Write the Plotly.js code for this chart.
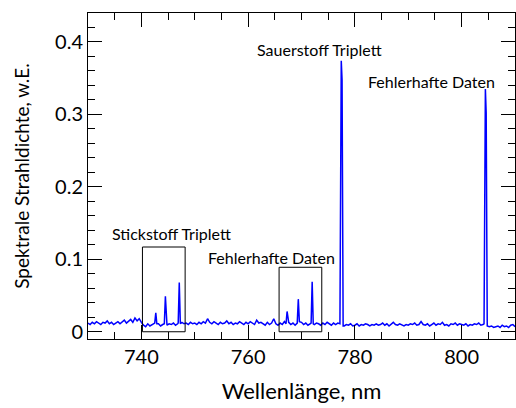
<!DOCTYPE html>
<html>
<head>
<meta charset="utf-8">
<script src="https://cdn.plot.ly/plotly-3.0.1.min.js"></script>
<style>html,body{margin:0;padding:0;background:#fff;}#chart{width:516px;height:408px;}</style>
</head>
<body>
<div id="chart"></div>
<script>
// Baseline grid: 730 .. 810 nm, step 0.4 nm
const baseStart = 730;
const baseStep = 0.4;
const baseline = [
  0.012,0.010,0.013,0.011,0.014,0.012,0.010,0.013,0.012,0.015,0.011,0.013,0.010,0.012,0.014,0.011,0.013,0.016,0.012,0.014,0.017,0.013,0.019,0.015,0.018,
  0.013,0.009,0.007,0.011,0.008,0.010,0.012,0.009,0.011,0.008,0.010,0.012,0.009,0.011,0.010,0.012,0.009,0.011,0.010,0.013,0.011,0.012,0.010,0.013,0.011,
  0.012,0.010,0.013,0.011,0.014,0.012,0.018,0.013,0.011,0.014,0.012,0.010,0.013,0.011,0.012,0.015,0.011,0.013,0.010,0.012,0.011,0.014,0.012,0.010,0.013,
  0.011,0.014,0.012,0.010,0.016,0.012,0.013,0.011,0.009,0.013,0.010,0.012,0.018,0.011,0.009,0.012,0.010,0.014,0.011,0.013,0.010,0.012,0.009,0.012,0.011,
  0.013,0.010,0.012,0.009,0.011,0.013,0.010,0.012,0.011,0.009,0.012,0.010,0.013,0.011,0.009,0.012,0.010,0.012,0.009,0.011,0.008,0.010,0.009,0.011,0.008,
  0.009,0.011,0.008,0.010,0.009,0.011,0.010,0.008,0.010,0.009,0.011,0.009,0.010,0.012,0.009,0.011,0.008,0.010,0.013,0.010,0.009,0.011,0.010,0.008,0.010,
  0.009,0.011,0.010,0.012,0.009,0.010,0.014,0.010,0.009,0.011,0.008,0.010,0.012,0.009,0.011,0.010,0.013,0.009,0.010,0.008,0.011,0.010,0.012,0.009,0.011,
  0.010,0.009,0.011,0.008,0.010,0.009,0.011,0.010,0.012,0.009,0.010,0.008,0.009,0.007,0.008,0.006,0.007,0.008,0.006,0.009,0.007,0.008,0.006,0.009,0.010,
  0.007
];

// Emission lines (wavelength, intensity)
const peakX = [
  [742.5, 742.7, 742.9],
  [744.3, 744.5, 744.7],
  [746.9, 747.1, 747.3],
  [767.1, 767.3, 767.5],
  [769.2, 769.4, 769.6],
  [771.8, 772.0, 772.2],
  [777.2, 777.45, 777.6, 777.8],
  [804.2, 804.45, 804.6, 804.8]
];
const peakY = [
  [0.012, 0.026, 0.011],
  [0.011, 0.049, 0.012],
  [0.012, 0.068, 0.011],
  [0.011, 0.028, 0.013],
  [0.012, 0.045, 0.014],
  [0.012, 0.069, 0.011],
  [0.011, 0.374, 0.348, 0.008],
  [0.011, 0.335, 0.302, 0.008]
];

// Boxes around line groups [x0, x1, y0, y1]
const boxes = [
  [740.2, 748.2, 0.0, 0.117],
  [765.8, 773.8, 0.0, 0.089]
];

const labelTexts = ["Stickstoff Triplett", "Fehlerhafte Daten", "Sauerstoff Triplett", "Fehlerhafte Daten"];
const labelX = [745.6, 764.4, 773.4, 794.4];
const labelY = [0.136, 0.103, 0.389, 0.345];

const xTitle = "Wellenlänge, nm";
const yTitle = "Spektrale Strahldichte, w.E.";

const xRange = [730, 810];
const yRange = [-0.01, 0.44];

// merge baseline with peaks
let pts = [];
baseline.forEach((v, i) => {
  const x = +(baseStart + i * baseStep).toFixed(2);
  const inPeak = peakX.some(px => x >= px[0] - 0.05 && x <= px[px.length - 1] + 0.05);
  if (!inPeak) pts.push([x, v]);
});
peakX.forEach((px, k) => px.forEach((x, j) => pts.push([x, peakY[k][j]])));
pts.sort((a, b) => a[0] - b[0]);

const font = "Lato, 'DejaVu Sans', sans-serif";

const trace = {
  x: pts.map(p => p[0]),
  y: pts.map(p => p[1]),
  type: 'scatter',
  mode: 'lines',
  line: {color: '#0000ff', width: 1.5},
  hoverinfo: 'skip'
};
// invisible trace to activate minor-tick axes
const helper = {
  x: xRange, y: yRange, xaxis: 'x2', yaxis: 'y2',
  type: 'scatter', mode: 'lines', line: {color: 'rgba(0,0,0,0)', width: 0},
  hoverinfo: 'skip', showlegend: false
};

const layout = {
  width: 516,
  height: 408,
  margin: {l: 88, r: 1, t: 13, b: 69},
  paper_bgcolor: '#fff',
  plot_bgcolor: '#fff',
  showlegend: false,
  font: {family: font, color: '#000'},
  xaxis: {
    range: xRange, showgrid: false, zeroline: false,
    showline: true, linecolor: '#000', linewidth: 1, mirror: 'ticks',
    ticks: 'inside', ticklen: 14, tickwidth: 1, tickcolor: '#000',
    tickmode: 'linear', tick0: 740, dtick: 20,
    tickfont: {family: font, size: 20, color: '#000'},
    title: {text: xTitle, font: {family: font, size: 22, color: '#000'}, standoff: 16}
  },
  yaxis: {
    range: yRange, showgrid: false, zeroline: false,
    showline: true, linecolor: '#000', linewidth: 1, mirror: 'ticks',
    ticks: 'inside', ticklen: 14, tickwidth: 1, tickcolor: '#000',
    tickmode: 'linear', tick0: 0, dtick: 0.1,
    tickfont: {family: font, size: 20, color: '#000'},
    title: {text: yTitle, font: {family: font, size: 19, color: '#000'}, standoff: 20}
  },
  xaxis2: {
    overlaying: 'x', anchor: 'y2', range: xRange,
    showgrid: false, zeroline: false, showline: false, mirror: 'ticks',
    ticks: 'inside', ticklen: 7, tickwidth: 1, tickcolor: '#000',
    tickmode: 'linear', tick0: 730, dtick: 5, showticklabels: false
  },
  yaxis2: {
    overlaying: 'y', anchor: 'x2', range: yRange,
    showgrid: false, zeroline: false, showline: false, mirror: 'ticks',
    ticks: 'inside', ticklen: 7, tickwidth: 1, tickcolor: '#000',
    tickmode: 'linear', tick0: 0, dtick: 0.02, showticklabels: false
  },
  shapes: boxes.map(b => ({
    type: 'rect', xref: 'x', yref: 'y',
    x0: b[0], x1: b[1], y0: b[2], y1: b[3],
    line: {color: '#000', width: 1}, fillcolor: 'rgba(0,0,0,0)'
  })),
  annotations: labelTexts.map((t, i) => ({
    text: t, x: labelX[i], y: labelY[i], xref: 'x', yref: 'y',
    showarrow: false, xanchor: 'center', yanchor: 'middle',
    font: {family: font, size: 16, color: '#000'}
  }))
};

Plotly.newPlot('chart', [helper, trace], layout, {displayModeBar: false});
</script>
</body>
</html>
